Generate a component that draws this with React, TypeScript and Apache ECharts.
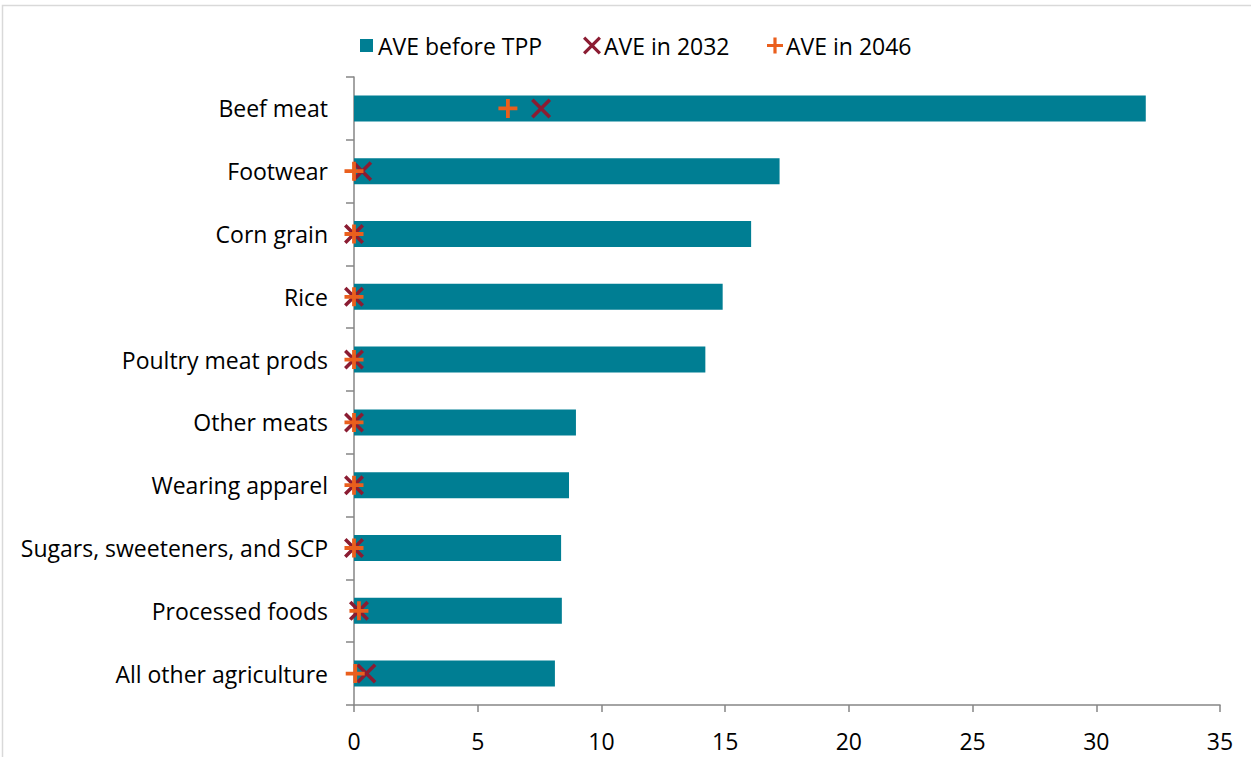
import React, { useEffect, useRef } from "react";
import * as echarts from "echarts";

const categories = [
  "Beef meat",
  "Footwear",
  "Corn grain",
  "Rice",
  "Poultry meat prods",
  "Other meats",
  "Wearing apparel",
  "Sugars, sweeteners, and SCP",
  "Processed foods",
  "All other agriculture",
];
const aveBefore = [32.0, 17.2, 16.05, 14.9, 14.2, 8.97, 8.69, 8.37, 8.4, 8.12];
const ave2032 = [7.56, 0.33, 0.0, 0.0, 0.0, 0.0, 0.0, 0.0, 0.2, 0.5];
const ave2046 = [6.22, 0.0, 0.0, 0.0, 0.0, 0.0, 0.0, 0.0, 0.2, 0.05];
const xTicks = { min: 0, max: 35, interval: 5 };

const FONT = "Open Sans";
const FS = 23;
const X_PATH =
  "path://M2.5,0 L10,7.5 L17.5,0 L20,2.5 L12.5,10 L20,17.5 L17.5,20 L10,12.5 L2.5,20 L0,17.5 L7.5,10 L0,2.5 Z";
const PLUS_PATH =
  "path://M8,0 L12,0 L12,8 L20,8 L20,12 L12,12 L12,20 L8,20 L8,12 L0,12 L0,8 L8,8 Z";
const RED = "#8b1c32";
const ORANGE = "#ea5f1d";
const TEAL = "#007e93";

export default function App() {
  const ref = useRef<HTMLDivElement>(null);
  useEffect(() => {
    if (!ref.current) return;
    const chart = echarts.init(ref.current, null, { renderer: "svg" });
    const legendText = { fontFamily: FONT, fontSize: FS, color: "#000" };
    chart.setOption({
      animation: false,
      backgroundColor: "#ffffff",
      textStyle: { fontFamily: FONT },
      graphic: [
        {
          type: "rect",
          shape: { x: 2.5, y: 5.5, width: 1300, height: 800 },
          style: { fill: "none", stroke: "#d9d9d9", lineWidth: 1.5 },
          silent: true,
        },
      ],
      legend: [
        {
          top: 29,
          left: 355,
          itemWidth: 13,
          itemHeight: 13,
          textStyle: { ...legendText, padding: [0, 0, 0, 0] },
          data: [{ name: "AVE before TPP", icon: "rect" }],
        },
        {
          top: 29,
          left: 578,
          itemWidth: 18,
          itemHeight: 18,
          textStyle: { ...legendText, padding: [0, 0, 0, -2] },
          data: [{ name: "AVE in 2032", icon: X_PATH, itemStyle: { color: RED } }],
        },
        {
          top: 29,
          left: 762,
          itemWidth: 16,
          itemHeight: 16,
          textStyle: { ...legendText, padding: [0, 0, 0, -2] },
          data: [{ name: "AVE in 2046", icon: PLUS_PATH, itemStyle: { color: ORANGE } }],
        },
      ],
      grid: { left: 354, right: 31, top: 77, bottom: 52, containLabel: false },
      xAxis: {
        type: "value",
        min: xTicks.min,
        max: xTicks.max,
        interval: xTicks.interval,
        axisLine: { show: true, lineStyle: { color: "#868686", width: 1.5 } },
        axisTick: { show: true, length: 7, lineStyle: { color: "#868686", width: 1.5 } },
        splitLine: { show: false },
        axisLabel: { fontFamily: FONT, fontSize: FS, color: "#000", margin: 24 },
      },
      yAxis: {
        type: "category",
        data: categories,
        inverse: true,
        axisLine: { show: true, lineStyle: { color: "#868686", width: 1.5 } },
        axisTick: { show: true, length: 8, lineStyle: { color: "#868686", width: 1.5 } },
        axisLabel: { fontFamily: FONT, fontSize: FS, color: "#000", margin: 26, padding: [0, 0, 3, 0] },
      },
      series: [
        {
          name: "AVE before TPP",
          type: "bar",
          data: aveBefore,
          barWidth: 26,
          itemStyle: { color: TEAL },
        },
        {
          name: "AVE in 2032",
          type: "scatter",
          data: ave2032.map((v, i) => [v, categories[i]]),
          symbol: X_PATH,
          symbolSize: 20,
          itemStyle: { color: RED, opacity: 1 },
          z: 3,
        },
        {
          name: "AVE in 2046",
          type: "scatter",
          data: ave2046.map((v, i) => [v, categories[i]]),
          symbol: PLUS_PATH,
          symbolSize: 19,
          itemStyle: { color: ORANGE, opacity: 1 },
          z: 4,
        },
      ],
    });
    return () => chart.dispose();
  }, []);
  return (
    <div
      ref={ref}
      style={{ position: "fixed", left: 0, top: 0, width: 1251, height: 757 }}
    />
  );
}
